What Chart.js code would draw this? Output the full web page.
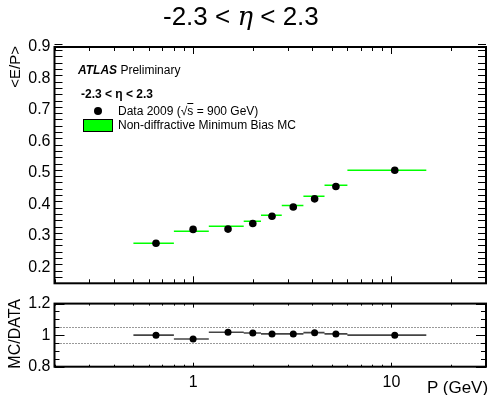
<!DOCTYPE html>
<html><head><meta charset="utf-8">
<script src="https://cdn.jsdelivr.net/npm/chart.js@4.4.1/dist/chart.umd.min.js"></script>
<style>
body{margin:0;width:490px;height:395px;background:#fff;overflow:hidden;position:relative;font-family:'Liberation Sans',Arial,sans-serif;color:#000}
.box{position:absolute;left:0;width:490px}
.t{position:absolute;white-space:nowrap;line-height:1}
.v{position:absolute;white-space:nowrap;line-height:1;writing-mode:vertical-rl;transform:rotate(180deg)}
</style></head><body>
<div class="box" style="top:0;height:300px"><canvas id="c1"></canvas></div>
<div class="box" style="top:290px;height:105px"><canvas id="c2"></canvas></div>

<div class="t" style="left:163px;top:3px;font-size:26px">-2.3 &lt; <span style="font-family:'DejaVu Serif',serif;font-style:italic">η</span> &lt; 2.3</div>
<div class="v" style="left:7px;top:46px;font-size:15px">&lt;E/P&gt;</div>
<div class="v" style="left:7px;top:299px;font-size:16px">MC/DATA</div>
<div class="t" style="left:427px;top:379px;font-size:17px">P (GeV)</div>

<div class="t" style="left:78px;top:64px;font-size:12px"><b><i>ATLAS</i></b> Preliminary</div>
<div class="t" style="left:81px;top:88px;font-size:12px;font-weight:bold">-2.3 &lt; η &lt; 2.3</div>
<div style="position:absolute;left:94px;top:107px;width:8px;height:8px;border-radius:50%;background:#000"></div>
<div class="t" style="left:118px;top:105px;font-size:12px">Data 2009 (√<span style="text-decoration:overline">s</span> = 900 GeV)</div>
<div style="position:absolute;left:83px;top:119px;width:28px;height:11px;background:#00ff00;border:1px solid #000"></div>
<div class="t" style="left:118px;top:119px;font-size:12px">Non-diffractive Minimum Bias MC</div>

<script>
// ---- data ----
const binEdges = [0.5, 0.8, 1.2, 1.8, 2.2, 2.8, 3.6, 4.6, 6.0, 15];
const pCenters = [0.65, 1.0, 1.5, 2.0, 2.5, 3.2, 4.1, 5.25, 10.4];
const dataEP   = [0.277, 0.321, 0.322, 0.340, 0.363, 0.392, 0.418, 0.457, 0.509];
const mcEP     = [0.277, 0.315, 0.331, 0.347, 0.366, 0.397, 0.426, 0.461, 0.509];
const ratioMC  = [1.000, 0.976, 1.018, 1.014, 1.008, 1.008, 1.016, 1.008, 1.000];
const yTicksTop    = [0.2, 0.3, 0.4, 0.5, 0.6, 0.7, 0.8, 0.9];
const yLabelsTop   = ['0.2','0.3','0.4','0.5','0.6','0.7','0.8','0.9'];
const yTicksRatio  = [0.8, 1.0, 1.2];
const yLabelsRatio = ['0.8','1','1.2'];
const xTicks       = [1, 10];
const xLabels      = ['1','10'];
const refLines     = [0.95, 1.05];

// build step segments (x lo..hi at value), gaps between bins
function steps(vals){
  const out=[];
  vals.forEach((v,i)=>{ out.push({x:binEdges[i],y:v},{x:binEdges[i+1],y:v},{x:binEdges[i+1],y:null}); });
  return out;
}
const pts = vals => vals.map((v,i)=>({x:pCenters[i],y:v}));

const FONT = "'Liberation Sans', Arial, sans-serif";

// plugin: frame + inward ROOT-like ticks + reference lines
const rootFrame = {
  id:'rootFrame',
  beforeDatasetsDraw(chart, args, o){
    const {ctx, chartArea:a, scales:{x,y}} = chart;
    ctx.save();
    if(o.ref){
      ctx.strokeStyle='#333'; ctx.lineWidth=1; ctx.setLineDash([1,2]);
      o.ref.forEach(v=>{const py=Math.round(y.getPixelForValue(v))+0.5; ctx.beginPath(); ctx.moveTo(a.left,py); ctx.lineTo(a.right,py); ctx.stroke();});
      ctx.setLineDash([]);
    }
    ctx.restore();
  },
  afterDraw(chart, args, o){
    const {ctx, chartArea:a, scales:{x,y}} = chart;
    ctx.save();
    ctx.strokeStyle='#000'; ctx.lineWidth=1;
    // y ticks
    const n = Math.round((y.max-y.min)/o.yMinorStep);
    for(let i=0;i<=n;i++){
      const v = y.min + i*o.yMinorStep;
      const isMaj = Math.abs(v/o.yMajorStep - Math.round(v/o.yMajorStep))<1e-6;
      const L = isMaj?o.yMajor:o.yMinor;
      const py = Math.round(y.getPixelForValue(v))+0.5;
      ctx.beginPath(); ctx.moveTo(a.left,py); ctx.lineTo(a.left+L,py);
      ctx.moveTo(a.right,py); ctx.lineTo(a.right-L,py); ctx.stroke();
    }
    // x log ticks
    [0.1,1,10].forEach(d=>{
      for(let k=1;k<=9;k++){
        const v=k*d; if(v<x.min-1e-9||v>x.max+1e-9) continue;
        const L = (k===1)?o.xMajor:o.xMinor;
        const px = Math.round(x.getPixelForValue(v))+0.5;
        ctx.beginPath(); ctx.moveTo(px,a.bottom); ctx.lineTo(px,a.bottom-L);
        ctx.moveTo(px,a.top); ctx.lineTo(px,a.top+L); ctx.stroke();
      }
    });
    ctx.lineWidth=2;
    ctx.strokeRect(a.left,a.top,a.right-a.left,a.bottom-a.top);
    ctx.restore();
  }
};

const xScale = (showLabels, h) => ({
  type:'logarithmic', min:0.2, max:30, position:'bottom',
  afterBuildTicks: s => { s.ticks = xTicks.map(v=>({value:v})); },
  ticks:{display:showLabels, autoSkip:false, maxRotation:0, padding:6, color:'#000',
         font:{family:FONT,size:16}, callback:(v)=>xLabels[xTicks.indexOf(v)] },
  grid:{display:false, drawTicks:false}, border:{display:false},
  afterFit: s => { s.height = h; }
});
const yScale = (min,max,ticks,labels) => ({
  type:'linear', min, max,
  afterBuildTicks: s => { s.ticks = ticks.map(v=>({value:v})); },
  ticks:{padding:4, color:'#000', font:{family:FONT,size:16},
         callback:(v)=>{const i=ticks.findIndex(t=>Math.abs(t-v)<1e-9); return i>=0?labels[i]:'';}},
  grid:{display:false, drawTicks:false}, border:{display:false},
  afterFit: s => { s.width = 54.5; }
});

Chart.defaults.font.family = FONT;

new Chart(document.getElementById('c1'), {
  type:'scatter',
  data:{datasets:[
    {label:'Non-diffractive Minimum Bias MC', data:steps(mcEP), showLine:true, spanGaps:false,
     borderColor:'#00ff00', borderWidth:1.5, pointRadius:0, order:2},
    {label:'Data 2009', data:pts(dataEP), showLine:false, pointRadius:3.8,
     pointBackgroundColor:'#000', pointBorderColor:'#000', pointBorderWidth:0, order:1}
  ]},
  options:{
    responsive:true, maintainAspectRatio:false, animation:false,
    layout:{padding:{left:0,right:2,top:47,bottom:0}},
    plugins:{legend:{display:false}, tooltip:{enabled:false},
      rootFrame:{yMajorStep:0.1, yMinorStep:0.02, yMajor:15, yMinor:8, xMajor:7, xMinor:4}},
    scales:{ x:xScale(false, 300-283.3), y:yScale(0.15,0.9,yTicksTop,yLabelsTop) }
  },
  plugins:[rootFrame]
});

new Chart(document.getElementById('c2'), {
  type:'scatter',
  data:{datasets:[
    {label:'MC/DATA bins', data:steps(ratioMC), showLine:true, spanGaps:false,
     borderColor:'#444', borderWidth:1.6, pointRadius:0, order:2},
    {label:'MC/DATA', data:pts(ratioMC), showLine:false, pointRadius:3.5,
     pointBackgroundColor:'#000', pointBorderColor:'#000', pointBorderWidth:0, order:1}
  ]},
  options:{
    responsive:true, maintainAspectRatio:false, animation:false,
    layout:{padding:{left:0,right:2,top:10.7,bottom:0}},
    plugins:{legend:{display:false}, tooltip:{enabled:false},
      rootFrame:{yMajorStep:0.2, yMinorStep:0.05, yMajor:10, yMinor:5, xMajor:4, xMinor:2, ref:refLines}},
    scales:{ x:xScale(true, 105-76.7), y:yScale(0.8,1.2,yTicksRatio,yLabelsRatio) }
  },
  plugins:[rootFrame]
});
</script>
</body></html>
